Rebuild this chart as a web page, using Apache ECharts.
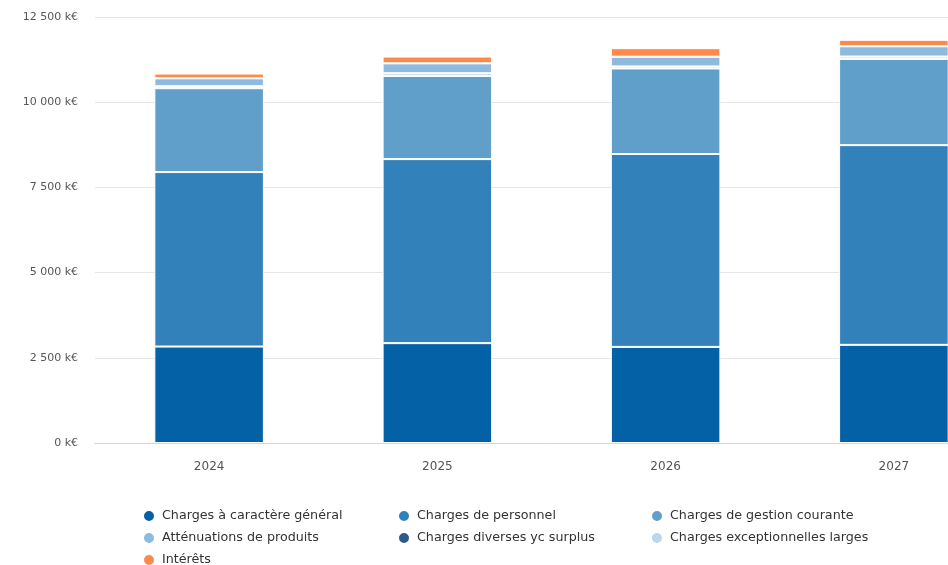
<!DOCTYPE html>
<html>
<head>
<meta charset="utf-8">
<script src="https://cdn.jsdelivr.net/npm/echarts@6/dist/echarts.min.js"></script>
<style>
html,body{margin:0;padding:0;background:#fff;overflow:hidden;width:948px;height:565px;}
#c{width:1008px;height:565px;}
</style>
</head>
<body>
<div id="c"></div>
<script>
var categories = ['2024', '2025', '2026', '2027'];
var chargesGeneral = [2830, 2930, 2820, 2880];
var chargesPersonnel = [5120, 5400, 5660, 5860];
var chargesGestion = [2460, 2440, 2510, 2530];
var attenuations = [230, 290, 285, 300];
var chargesDiverses = [0, 0, 0, 0];
var chargesExceptionnelles = [60, 80, 60, 70];
var interets = [140, 200, 250, 190];
var yTicks = [0, 2500, 5000, 7500, 10000, 12500];

var names = {
  gen: 'Charges à caractère général',
  pers: 'Charges de personnel',
  gest: 'Charges de gestion courante',
  att: 'Atténuations de produits',
  div: 'Charges diverses yc surplus',
  exc: 'Charges exceptionnelles larges',
  int: 'Intérêts'
};
var colors = {
  gen: '#0561a6', pers: '#3381ba', gest: '#619fcb', att: '#8dbadd',
  div: '#2d5a8b', exc: '#bcd6ec', int: '#fd8a4d'
};

function bar(key, data, bw) {
  return {
    name: names[key], type: 'bar', stack: 'total', data: data,
    barCategoryGap: '52%',
    itemStyle: { color: colors[key], borderColor: '#ffffff', borderWidth: bw || 1 },
    emphasis: { disabled: true }
  };
}

function fmt(v) {
  var s = String(v);
  return s.replace(/\B(?=(\d{3})+(?!\d))/g, ' ') + ' k€';
}

var legendBase = {
  orient: 'vertical', icon: 'circle', itemWidth: 12, itemHeight: 12, itemGap: 8,
  top: 504, height: 90, padding: 5,
  textStyle: { color: '#333', fontSize: 12.7, fontFamily: 'DejaVu Sans', padding: [0, 0, 0, 2] }
};

var chart = echarts.init(document.getElementById('c'));
chart.setOption({
  animation: false,
  backgroundColor: '#fff',
  grid: { left: 95, right: 0, top: 17, bottom: 122, containLabel: false },
  legend: [
    Object.assign({}, legendBase, { left: 137, data: [names.gen, names.att, names.int] }),
    Object.assign({}, legendBase, { left: 392, data: [names.pers, names.div] }),
    Object.assign({}, legendBase, { left: 645, data: [names.gest, names.exc] })
  ],
  xAxis: {
    type: 'category', data: categories,
    axisLine: { lineStyle: { color: '#ccd6eb', width: 1 } },
    axisTick: { show: false },
    axisLabel: { color: '#555', fontSize: 12, margin: 18, fontFamily: 'DejaVu Sans' }
  },
  yAxis: {
    type: 'value', min: yTicks[0], max: yTicks[yTicks.length - 1], interval: 2500,
    axisLine: { show: false }, axisTick: { show: false },
    splitLine: { lineStyle: { color: '#e6e6e6', width: 1 } },
    axisLabel: { color: '#555', fontSize: 11, margin: 17, fontFamily: 'DejaVu Sans', formatter: fmt }
  },
  series: [
    bar('gen', chargesGeneral),
    bar('pers', chargesPersonnel),
    bar('gest', chargesGestion),
    bar('exc', chargesExceptionnelles),
    bar('att', attenuations),
    bar('div', chargesDiverses),
    bar('int', interets, 1)
  ]
});
</script>
</body>
</html>
